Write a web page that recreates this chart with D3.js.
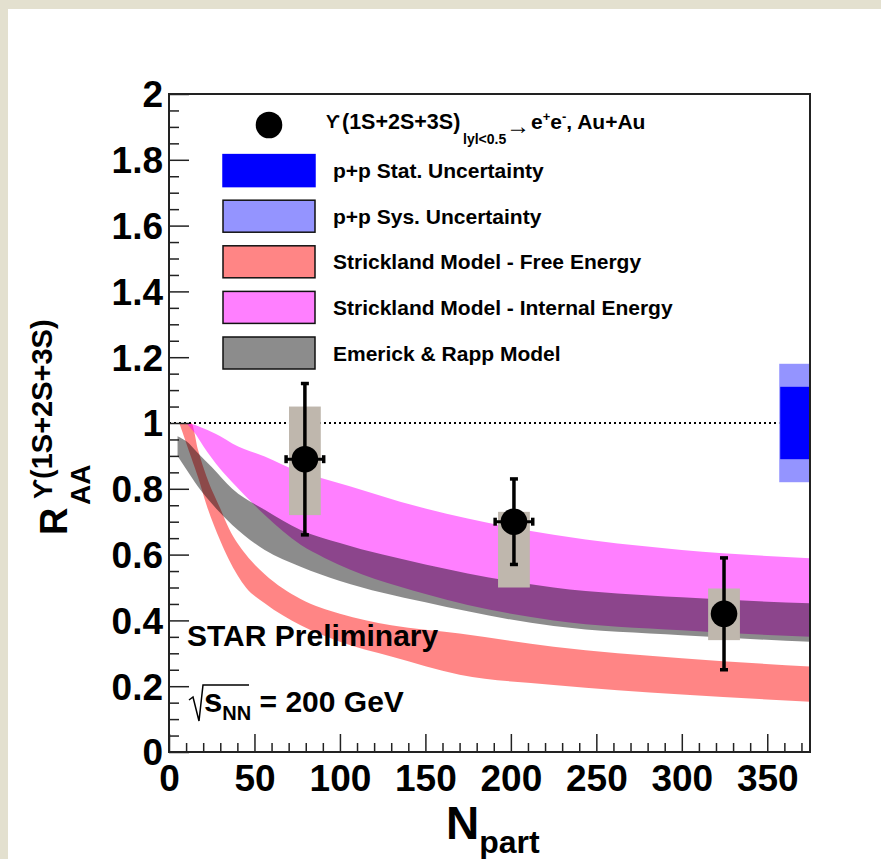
<!DOCTYPE html>
<html>
<head>
<meta charset="utf-8">
<script src="https://cdn.jsdelivr.net/npm/d3@7"></script>
<style>
  html, body { margin: 0; padding: 0; background: #fff; }
  svg { display: block; }
  text { font-family: "Liberation Sans", Arial, Helvetica, sans-serif; font-weight: bold; fill: #000; }
</style>
</head>
<body>
<svg id="chart" width="881" height="859"></svg>
<script>
// ---- Data -------------------------------------------------------------
// Measured Upsilon(1S+2S+3S) R_AA vs N_part in Au+Au at 200 GeV
const ptNpart   = [79.5, 201.8, 324.7];
const ptRaa     = [0.89, 0.70, 0.42];
const ptStatErr = [0.23, 0.13, 0.17];
const ptSysUp   = [0.16, 0.03, 0.077];
const ptSysDown = [0.17, 0.20, 0.08];
const ptNpartErr = [11, 11, 0];
const sysBoxHalfWidth = 9.3;   // N_part units

// p+p normalisation uncertainties, drawn at the right edge around R_AA = 1
const ppRange   = [357, 375];
const ppStatErr = 0.11;
const ppSysErr  = 0.18;

// Strickland model, free energy potential (band edges)
const freeN  = [6, 10, 13, 17, 22, 30, 35, 45, 56, 77, 100, 130, 170, 225, 300, 375];
const freeHi = [1.0, 1.0, 1.0, 0.918, 0.837, 0.74, 0.68, 0.60, 0.54, 0.465, 0.42, 0.385, 0.36, 0.32, 0.285, 0.26];
const freeLo = [1.0, 0.94, 0.895, 0.835, 0.75, 0.642, 0.585, 0.50, 0.452, 0.385, 0.335, 0.29, 0.235, 0.204, 0.175, 0.153];

// Strickland model, internal energy potential
const intN  = [10, 15, 20, 30, 37, 56, 77, 91, 150, 225, 300, 375];
const intHi = [1.0, 0.995, 0.984, 0.96, 0.938, 0.898, 0.85, 0.83, 0.74, 0.66, 0.614, 0.589];
const intLo = [1.0, 0.97, 0.93, 0.86, 0.82, 0.72, 0.63, 0.59, 0.48, 0.40, 0.37, 0.35];

// Emerick & Rapp model
const erN  = [5, 10, 17, 25, 37, 56, 77, 100, 150, 225, 300, 375];
const erHi = [0.96, 0.945, 0.908, 0.866, 0.80, 0.736, 0.675, 0.635, 0.57, 0.50, 0.47, 0.452];
const erLo = [0.90, 0.86, 0.806, 0.755, 0.69, 0.614, 0.563, 0.52, 0.455, 0.383, 0.355, 0.335];

// Axes
const xMajor = [0, 50, 100, 150, 200, 250, 300, 350];
const xTickLabels = ["0", "50", "100", "150", "200", "250", "300", "350"];
const yMajor = [0, 0.2, 0.4, 0.6, 0.8, 1, 1.2, 1.4, 1.6, 1.8, 2];
const yTickLabels = ["0", "0.2", "0.4", "0.6", "0.8", "1", "1.2", "1.4", "1.6", "1.8", "2"];

const legendLabels = [
  "p+p Stat. Uncertainty",
  "p+p Sys. Uncertainty",
  "Strickland Model - Free Energy",
  "Strickland Model - Internal Energy",
  "Emerick & Rapp Model"
];

// ---- Layout -----------------------------------------------------------
const svg = d3.select("#chart");
const W = 881, H = 859;
const plot = { left: 169, right: 810, top: 94, bottom: 752 };

const x = d3.scaleLinear().domain([0, 375]).range([plot.left, plot.right]);
const y = d3.scaleLinear().domain([0, 2]).range([plot.bottom, plot.top]);

// page background with the tan margin on top and left
svg.append("rect").attr("width", W).attr("height", H).attr("fill", "#fff");
svg.append("rect").attr("width", W).attr("height", 9).attr("fill", "#e3e0cf");
svg.append("rect").attr("width", 8).attr("height", H).attr("fill", "#e3e0cf");

// translucent fills: overlapping bands blend (magenta + black -> purple)
const fills = {
  red:  { color: "#ff0000", opacity: 0.48 },
  mag:  { color: "#ff00ff", opacity: 0.5 },
  gray: { color: "#000000", opacity: 0.45 },
  blue: { color: "#0000ff", opacity: 0.42 }
};

const defs = svg.append("defs");
const clip = defs.append("clipPath").attr("id", "plotclip");
clip.append("rect").attr("x", plot.left).attr("y", plot.top)
  .attr("width", plot.right - plot.left).attr("height", plot.bottom - plot.top);

const g = svg.append("g").attr("clip-path", "url(#plotclip)");

// ---- Model bands ------------------------------------------------------
const area = d3.area()
  .x(d => x(d.n)).y0(d => y(d.lo)).y1(d => y(d.hi))
  .curve(d3.curveMonotoneX);
function band(ns, his, los) { return ns.map((n, i) => ({ n, hi: his[i], lo: los[i] })); }

[[band(freeN, freeHi, freeLo), fills.red],
 [band(intN, intHi, intLo), fills.mag],
 [band(erN, erHi, erLo), fills.gray]].forEach(([data, f]) =>
  g.append("path").datum(data).attr("d", area)
    .attr("fill", f.color).attr("fill-opacity", f.opacity));

// unity reference line
g.append("line")
  .attr("x1", x(0)).attr("x2", x(ppRange[0]))
  .attr("y1", y(1)).attr("y2", y(1))
  .attr("stroke", "#000").attr("stroke-width", 2).attr("stroke-dasharray", "2,3");

// p+p uncertainty boxes
g.append("rect")
  .attr("x", x(ppRange[0])).attr("width", x(ppRange[1]) - x(ppRange[0]))
  .attr("y", y(1 + ppSysErr)).attr("height", y(1 - ppSysErr) - y(1 + ppSysErr))
  .attr("fill", fills.blue.color).attr("fill-opacity", fills.blue.opacity);
g.append("rect")
  .attr("x", x(ppRange[0]) + 1).attr("width", x(ppRange[1]) - x(ppRange[0]) - 1)
  .attr("y", y(1 + ppStatErr)).attr("height", y(1 - ppStatErr) - y(1 + ppStatErr))
  .attr("fill", "#0000ff");

// ---- Data points ------------------------------------------------------
const pts = ptNpart.map((n, i) => ({
  n, r: ptRaa[i], stat: ptStatErr[i], sup: ptSysUp[i], sdn: ptSysDown[i], nerr: ptNpartErr[i]
}));

g.selectAll(".sys").data(pts).join("rect")
  .attr("x", d => x(d.n - sysBoxHalfWidth))
  .attr("width", d => x(d.n + sysBoxHalfWidth) - x(d.n - sysBoxHalfWidth))
  .attr("y", d => y(d.r + d.sup))
  .attr("height", d => y(d.r - d.sdn) - y(d.r + d.sup))
  .attr("fill", "#bfb7ad");

const eb = g.append("g").attr("stroke", "#000");
pts.forEach(d => {
  eb.append("line").attr("x1", x(d.n)).attr("x2", x(d.n))
    .attr("y1", y(d.r + d.stat)).attr("y2", y(d.r - d.stat)).attr("stroke-width", 3.5);
  [d.r + d.stat, d.r - d.stat].forEach(v =>
    eb.append("line").attr("x1", x(d.n) - 4).attr("x2", x(d.n) + 4)
      .attr("y1", y(v)).attr("y2", y(v)).attr("stroke-width", 3.5));
  if (d.nerr > 0) {
    eb.append("line").attr("x1", x(d.n - d.nerr)).attr("x2", x(d.n + d.nerr))
      .attr("y1", y(d.r)).attr("y2", y(d.r)).attr("stroke-width", 3);
    [d.n - d.nerr, d.n + d.nerr].forEach(v =>
      eb.append("line").attr("x1", x(v)).attr("x2", x(v))
        .attr("y1", y(d.r) - 4).attr("y2", y(d.r) + 4).attr("stroke-width", 3.5));
  }
});

g.selectAll(".pt").data(pts).join("circle")
  .attr("cx", d => x(d.n)).attr("cy", d => y(d.r)).attr("r", 13.3).attr("fill", "#000");

// ---- Axes -------------------------------------------------------------
const xMinor = d3.range(0, 376, 10).filter(v => v % 50 !== 0);
const yMinor = d3.range(0, 41).map(i => i * 0.05).filter((v, i) => i % 4 !== 0);

const xAxis = svg.append("g").attr("transform", `translate(0,${plot.bottom})`)
  .call(d3.axisBottom(x).tickValues(xMajor).tickSize(-18).tickPadding(13)
    .tickFormat((d, i) => xTickLabels[i]));
svg.append("g").attr("transform", `translate(0,${plot.bottom})`)
  .call(d3.axisBottom(x).tickValues(xMinor).tickSize(-9).tickFormat(""));

const yAxis = svg.append("g").attr("transform", `translate(${plot.left},0)`)
  .call(d3.axisLeft(y).tickValues(yMajor).tickSize(-20).tickPadding(6)
    .tickFormat((d, i) => yTickLabels[i]));
svg.append("g").attr("transform", `translate(${plot.left},0)`)
  .call(d3.axisLeft(y).tickValues(yMinor).tickSize(-10).tickFormat(""));

svg.selectAll(".domain").remove();
svg.selectAll(".tick line").attr("stroke", "#222").attr("stroke-width", 1.5);
svg.selectAll(".tick text")
  .attr("font-family", "'Liberation Sans', Arial, sans-serif")
  .attr("font-weight", "bold").attr("font-size", 37).attr("fill", "#000");
xAxis.selectAll(".tick text").attr("dy", "0.71em");
yAxis.selectAll(".tick text").attr("dy", "0.35em");

// frame
svg.append("rect")
  .attr("x", plot.left).attr("y", plot.top)
  .attr("width", plot.right - plot.left).attr("height", plot.bottom - plot.top)
  .attr("fill", "none").attr("stroke", "#222").attr("stroke-width", 2);

// axis titles
const xt = svg.append("text").attr("x", 446).attr("y", 839).attr("font-size", 46);
xt.append("tspan").text("N");
xt.append("tspan").attr("font-size", 32).attr("dy", 14).text("part");

const yt = svg.append("g").attr("transform", "translate(67,535) rotate(-90)");
yt.append("text").attr("x", 0).attr("y", 0).attr("font-size", 38).text("R");
yt.append("text").attr("x", 30).attr("y", 23).attr("font-size", 28).text("AA");
yt.append("text").attr("x", 36).attr("y", -15).attr("font-size", 26)
  .attr("font-family", "'DejaVu Serif', serif").attr("font-weight", "normal").text("ϒ");
yt.append("text").attr("x", 56).attr("y", -15).attr("font-size", 29).text("(1S+2S+3S)");

// labels inside the plot
svg.append("text").attr("x", 187).attr("y", 646).attr("font-size", 30).text("STAR Preliminary");

const sq = svg.append("g");
sq.append("path").attr("d", "M189,700 L193,697 L199,721 L203,685 L249,685")
  .attr("fill", "none").attr("stroke", "#000").attr("stroke-width", 1.5);
const energy = sq.append("text").attr("x", 204).attr("y", 712).attr("font-size", 33);
energy.append("tspan").text("s");
energy.append("tspan").attr("font-size", 20).attr("dy", 8).text("NN");
energy.append("tspan").attr("font-size", 30).attr("dy", -8).text(" = 200 GeV");

// ---- Legend -----------------------------------------------------------
const legTop = 125, legStep = 45.6, boxX = 223, boxW = 92, boxH = 32, textX = 333;

svg.append("circle").attr("cx", 269).attr("cy", legTop).attr("r", 13.3).attr("fill", "#000");
svg.append("text").attr("x", 326).attr("y", 128).attr("font-size", 18)
  .attr("font-family", "'DejaVu Serif', serif").attr("font-weight", "normal").text("ϒ");
svg.append("text").attr("x", 342).attr("y", 129).attr("font-size", 21.5).text("(1S+2S+3S)");
svg.append("text").attr("x", 463).attr("y", 144).attr("font-size", 14).text("lyl<0.5");
svg.append("text").attr("x", 506).attr("y", 134).attr("font-size", 24)
  .attr("font-family", "'DejaVu Sans', sans-serif").attr("font-weight", "normal").text("→");
const ee = svg.append("text").attr("x", 531).attr("y", 129).attr("font-size", 21);
ee.append("tspan").text("e");
ee.append("tspan").attr("font-size", 13).attr("dy", -8).text("+");
ee.append("tspan").attr("dy", 8).text("e");
ee.append("tspan").attr("font-size", 13).attr("dy", -8).text("-");
ee.append("tspan").attr("dy", 8).text(", Au+Au");

const swatches = [
  { color: "#0000ff", opacity: 1, stroke: "#0000ff" },
  { ...fills.blue, stroke: "#111" },
  { ...fills.red, stroke: "#111" },
  { ...fills.mag, stroke: "#111" },
  { ...fills.gray, stroke: "#111" }
];
legendLabels.forEach((lab, i) => {
  const cy = legTop + legStep * (i + 1);
  svg.append("rect").attr("x", boxX).attr("y", cy - boxH / 2)
    .attr("width", boxW).attr("height", boxH)
    .attr("fill", swatches[i].color).attr("fill-opacity", swatches[i].opacity)
    .attr("stroke", swatches[i].stroke).attr("stroke-width", 1.5);
  svg.append("text").attr("x", textX).attr("y", cy + 7.5).attr("font-size", 21).text(lab);
});
</script>
</body>
</html>
